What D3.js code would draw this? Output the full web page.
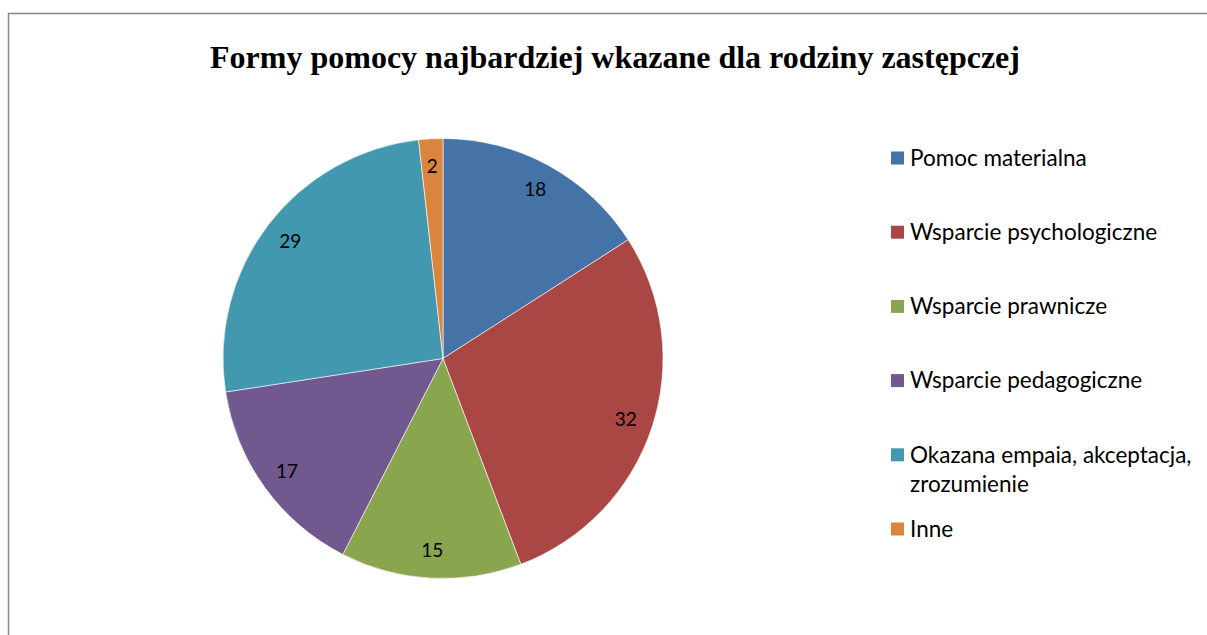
<!DOCTYPE html>
<html>
<head>
<meta charset="utf-8">
<script src="https://cdn.jsdelivr.net/npm/d3@7"></script>
<style>
  body { margin: 0; background: #fff; }
  svg { display: block; }
  .label { font-family: Lato, "Open Sans", sans-serif; font-size: 19px; fill: #000; }
  .legend text { font-family: Lato, "Open Sans", sans-serif; font-size: 22.5px; fill: #000; }
</style>
</head>
<body>
<svg width="1207" height="635"></svg>
<script>
const categories = ["Pomoc materialna", "Wsparcie psychologiczne", "Wsparcie prawnicze",
    "Wsparcie pedagogiczne", "Okazana empaia, akceptacja, zrozumienie", "Inne"];
const values = [18, 32, 15, 17, 29, 2];
const colors = ["#4572A7", "#AA4643", "#89A54E", "#71588F", "#4198AF", "#DB843D"];
const title = "Formy pomocy najbardziej wkazane dla rodziny zastępczej";

const svg = d3.select("svg"),
    width = +svg.attr("width"),
    height = +svg.attr("height");

// chart frame
svg.append("rect")
    .attr("x", 8.5).attr("y", 13.5)
    .attr("width", width + 10).attr("height", height + 10)
    .attr("fill", "none")
    .attr("stroke", "#868686")
    .attr("stroke-width", 1.5);

svg.append("text")
    .attr("x", 615).attr("y", 68)
    .attr("text-anchor", "middle")
    .style("font-family", "'Liberation Serif', 'Times New Roman', serif")
    .style("font-weight", "bold")
    .style("font-size", "32px")
    .text(title);

const cx = 443, cy = 358.5, r = 220;
const color = d3.scaleOrdinal().domain(categories).range(colors);

const pie = d3.pie().sort(null).value(function(d, i) { return values[i]; });
const arcs = pie(categories);
const arc = d3.arc().innerRadius(0).outerRadius(r);
const labelArc = d3.arc().innerRadius(r * 0.875).outerRadius(r * 0.875);

const g = svg.append("g").attr("transform", "translate(" + cx + "," + cy + ")");

g.selectAll("path")
    .data(arcs)
    .enter().append("path")
    .attr("d", arc)
    .attr("fill", function(d) { return color(d.data); })
    .attr("stroke", "#fff")
    .attr("stroke-width", 0.6);

g.selectAll("text")
    .data(arcs)
    .enter().append("text")
    .attr("class", "label")
    .attr("transform", function(d) { return "translate(" + labelArc.centroid(d) + ")"; })
    .attr("text-anchor", "middle")
    .attr("dy", "0.35em")
    .text(function(d) { return d.value; });

// legend
const legend = svg.append("g").attr("class", "legend");
const step = 74.2, ly0 = 158;

const item = legend.selectAll("g")
    .data(categories)
    .enter().append("g")
    .attr("transform", function(d, i) { return "translate(891," + (ly0 + i * step) + ")"; });

item.append("rect")
    .attr("x", 0).attr("y", -6.5)
    .attr("width", 13).attr("height", 13)
    .attr("fill", function(d) { return color(d); });

// wrap long labels like the original (about 290px wide)
item.append("text")
    .attr("x", 19)
    .each(function(d) {
        const t = d3.select(this);
        const words = d.split(" ");
        let line = [];
        let ts = t.append("tspan").attr("x", 19).attr("dy", "0.35em");
        words.forEach(function(w) {
            line.push(w);
            ts.text(line.join(" "));
            if (ts.node().getComputedTextLength() > 290 && line.length > 1) {
                line.pop();
                ts.text(line.join(" "));
                line = [w];
                ts = t.append("tspan").attr("x", 19).attr("dy", "29px").text(w);
            }
        });
    });
</script>
</body>
</html>
